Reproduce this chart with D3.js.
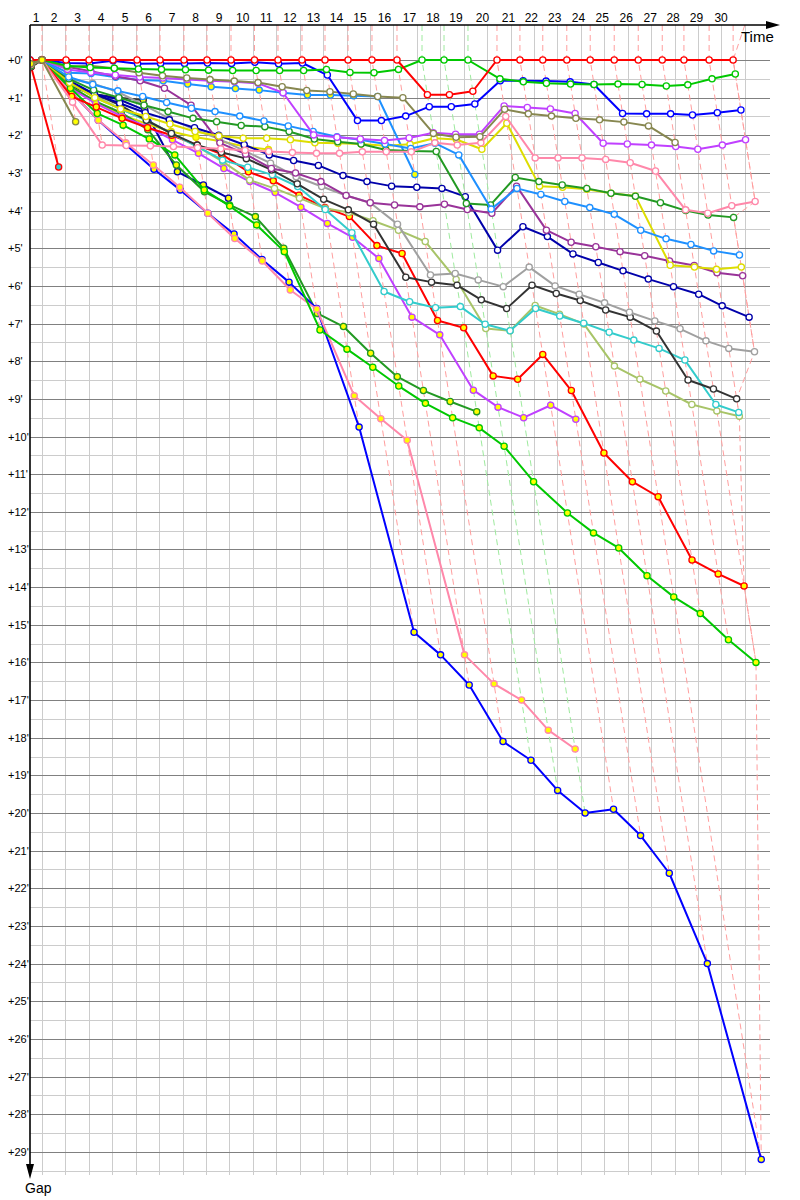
<!DOCTYPE html>
<html><head><meta charset="utf-8">
<script src="https://cdn.jsdelivr.net/npm/d3@7"></script>
<style>body{margin:0;background:#fff}svg{display:block}</style>
</head><body>
<svg id="chart" width="800" height="1200"></svg>
<script>
// ---------- DATA ----------
// leader's elapsed time (minutes) at each lap crossing, lap 0 .. lap 30
const leaderTime = [-2.05, 0, 4.10, 8.02, 12.12, 16.22, 20.15, 24.24, 28.17, 32.27, 36.28,
  40.29, 44.39, 48.32, 52.25, 56.34, 60.61, 64.88, 68.64, 72.73, 77.68,
  81.60, 85.50, 89.60, 93.60, 97.70, 101.80, 105.90, 109.60, 113.90, 118.00];
const lapLabels = d3.range(1, 31);
const gapTicks = d3.range(0, 30);
const raceEnd = 120;

// gap to leader (minutes) per lap, starting at lap 0
const redGaps = [0, 0, 0,0,0,0,0, 0,0,0,0,0, 0,0,0,0,0, 0.92,0.92,0.83, 0, 0,0,0,0,0, 0,0,0,0,0];
const greenGaps = [0.05, 0, 0.15,0.2,0.22,0.24,0.25, 0.26,0.27,0.28,0.28,0.28, 0.28,0.25,0.33,0.34,0.25, 0,0,0, 0.5, 0.58,0.62,0.64,0.65,0.64, 0.65,0.69,0.66,0.5,0.37];
const blueGaps = [0.03, 0, 0.08,0.09,0.02,0.1,0.09, 0.09,0.08,0.09,0.06,0.1, 0.08,0.4,1.61,1.61,1.49, 1.24,1.24,1.17, 0.55, 0.55,0.56,0.58,0.65,1.42, 1.43,1.43,1.46,1.4,1.33];
const oliveGaps = [0.1, 0, 0.18,0.15,0.22,0.34,0.42, 0.48,0.52,0.56,0.6,0.71, 0.81,0.84,0.9,0.97,1.0, 1.95,2.05,2.04, 1.31, 1.43,1.49,1.55,1.59,1.65, 1.75,2.19];
const violetGaps = [0.08, 0, 0.25,0.33,0.4,0.45,0.48, 0.52,0.55,0.58,0.62,0.87, 1.99,2.05,2.1,2.14,2.07, 1.93,1.97,1.97, 1.22, 1.26,1.3,1.42,2.21,2.23, 2.26,2.3,2.37,2.26,2.12];
const pinkGaps = [0.12, 0, 1.12,2.26,2.27,2.28,2.3, 2.33,2.36,2.4,2.43,2.46, 2.48,2.48,2.44,2.44,2.44, 2.2,2.26,2.2, 1.5, 2.6,2.6,2.6,2.64,2.73, 2.95,3.98,4.07,3.87,3.76];
const skyYGaps = [0.06, 0, 0.34,0.36,0.46,0.53,0.55, 0.64,0.71,0.76,0.8,0.87, 0.93,0.93,0.95,0.97,3.04];
const skyGaps = [0.1, 0, 0.45,0.65,0.82,0.97,1.13, 1.28,1.37,1.49,1.62,1.75, 1.9,2.04,2.12,2.23,2.35, 2.21,2.52,3.96, 3.41, 3.57,3.76,3.92,4.1,4.52, 4.75,4.9,5.07,5.18];
const dkGreenGaps = [0.15, 0, 0.5,0.8,1.0,1.2,1.37, 1.55,1.64,1.74,1.77,1.9, 2.1,2.17,2.23,2.39,2.42, 2.43,3.81,3.85, 3.12, 3.23,3.32,3.41,3.54,3.62, 3.79,4.0,4.12,4.18];
const yellowGaps = [0.05, 0, 0.6,1.0,1.3,1.5,1.7, 1.9,2.02,2.08,2.08,2.12, 2.2,2.21,2.23,2.28,2.24, 2.08,2.11,2.37, 1.68, 3.35,3.38,3.43,3.54,3.61, 5.45,5.5,5.56,5.5];
const purpleGaps = [0.1, 0, 0.18,0.3,0.43,0.55,0.75, 1.2,2.2,2.5,2.88,3.0, 3.23,3.6,3.79,3.85,3.9, 3.83,3.97,4.07, 3.35, 4.52,4.84,4.96,5.09,5.2, 5.34,5.46,5.65,5.73];
const navyGaps = [0.12, 0, 0.55,0.9,1.15,1.4,1.59, 1.8,2.0,2.25,2.52,2.67, 2.8,3.07,3.23,3.35,3.38, 3.41,3.63,5.05, 4.43, 4.69,5.15,5.38,5.6,5.82, 6.02,6.22,6.53,6.83];
const grayGaps = [0.15, 0, 0.5,0.62,0.85,1.2,1.55, 1.85,2.1,2.42,2.74,3.1, 3.36,3.6,3.79,4.36,5.71, 5.67,5.84,6.02, 5.5, 6.0,6.22,6.45,6.7,6.93, 7.14,7.46,7.66,7.75];
const blackGaps = [0.18, 0, 0.6,0.9,1.2,1.6,1.95, 2.26,2.45,2.62,2.92,3.29, 3.7,3.98,4.36,5.77,5.9, 5.98,6.37,6.6, 5.98, 6.2,6.39,6.64,6.83,7.2, 8.5,8.74,9.0];
const turquoiseGaps = [0.04, 0, 0.6,1.0,1.3,1.6,1.95, 2.3,2.66,2.85,3.05,3.36, 3.97,4.59,6.15,6.42,6.58, 6.55,7.02,7.19, 6.6, 6.8,6.99,7.23,7.44,7.66, 7.97,9.15,9.36];
const lightOliveGaps = [0.14, 0, 0.55,0.95,1.3,1.6,1.95, 2.3,2.7,3.19,3.41,3.67, 3.94,4.05,4.27,4.52,4.82, 5.83,7.13,7.19, 6.52, 6.75,7.01,8.13,8.48,8.79, 9.15,9.32,9.46];
const redYGaps = [0.18, 0, 0.97,1.25,1.55,1.8,2.0, 2.26,2.5,2.97,3.21,3.59, 3.92,4.16,4.93,5.14,6.92, 7.11,8.39,8.48, 7.82, 8.78,10.44,11.2,11.6,13.28, 13.65,13.97];
const greenYGaps = [0.02, 0, 0.75,1.42,1.73,2.1,2.52, 3.45,3.88,4.38,5.09,7.17, 7.68,8.16,8.66,9.12,9.5, 9.77,10.26,11.2, 12.03, 12.56,12.96,13.7,14.26,14.7, 15.4,16.0];
const dkGreenYGaps = [0.1, 0, 0.7,1.1,1.4,1.85,2.79, 3.5,3.85,4.16,5.0,6.73, 7.08,7.79,8.41,8.78,9.07, 9.34];
const violetYGaps = [0.07, 0, 0.75,1.15,1.5,1.77,2.12, 2.48,2.88,3.23,3.52,3.91, 4.34,4.71,5.27,6.83,7.3, 8.77,9.22,9.5, 9.17, 9.54];
const pinkYGaps = [0.16, 0, 0.85,1.6,2.2,2.79,3.38, 4.07,4.74,5.34,6.11,6.62, 8.92,9.53,10.1,15.8,16.57, 17.0,17.8,18.3];
const blueYGaps = [0, 0, 0.85,1.6,2.26,2.9,3.45, 4.07,4.62,5.3,5.9,6.6, 9.75,15.2,15.8,16.6,18.1, 18.6,19.4,20.0, 19.9, 20.6,21.6,24.0,29.2];
const redOutGaps = [0.18, 2.84];
const oliveYGaps = [0.1, 0, 1.64];
const yellowYGaps = [0.08, 0, 0.7,1.1,1.45,1.7,1.9, 2.05,2.15,2.3,2.38];
const navyYGaps = [0.05, 0, 0.65,0.9,1.05,1.33,2.97, 3.32,3.67];
const blackYGaps = [0.13, 0, 0.71,0.91,1.0,1.06];

// ---------- STYLE (separate from data) ----------
const C = {red:'#ff0000', green:'#00c800', blue:'#0000ff', olive:'#878750', violet:'#c040ff',
  pink:'#ff88aa', sky:'#1e90ff', dkgreen:'#229922', yellow:'#dddd00', purple:'#993399',
  navy:'#0000aa', gray:'#a0a0a0', black:'#333333', turq:'#33cccc', lolive:'#a8c468'};
const WHITE='#ffffff', YEL='#ffff00';
// drawing order: bottom -> top
const seriesList = [
  {gaps:redOutGaps, color:C.red, fill:C.turq},
  {gaps:blackYGaps, color:C.black, fill:YEL},
  {gaps:navyYGaps, color:C.navy, fill:YEL},
  {gaps:yellowYGaps, color:C.yellow, fill:YEL},
  {gaps:skyYGaps, color:C.sky, fill:YEL},
  {gaps:dkGreenYGaps, color:C.dkgreen, fill:YEL},
  {gaps:violetYGaps, color:C.violet, fill:YEL},
  {gaps:blueYGaps, color:C.blue, fill:YEL},
  {gaps:pinkYGaps, color:C.pink, fill:YEL},
  {gaps:greenYGaps, color:C.green, fill:YEL},
  {gaps:redYGaps, color:C.red, fill:YEL},
  {gaps:lightOliveGaps, color:C.lolive, fill:WHITE},
  {gaps:turquoiseGaps, color:C.turq, fill:WHITE},
  {gaps:blackGaps, color:C.black, fill:WHITE},
  {gaps:grayGaps, color:C.gray, fill:WHITE},
  {gaps:navyGaps, color:C.navy, fill:WHITE},
  {gaps:purpleGaps, color:C.purple, fill:WHITE},
  {gaps:yellowGaps, color:C.yellow, fill:WHITE},
  {gaps:dkGreenGaps, color:C.dkgreen, fill:WHITE},
  {gaps:skyGaps, color:C.sky, fill:WHITE},
  {gaps:pinkGaps, color:C.pink, fill:WHITE},
  {gaps:violetGaps, color:C.violet, fill:WHITE},
  {gaps:oliveGaps, color:C.olive, fill:WHITE},
  {gaps:blueGaps, color:C.blue, fill:WHITE},
  {gaps:greenGaps, color:C.green, fill:WHITE},
  {gaps:redGaps, color:C.red, fill:WHITE},
  {gaps:oliveYGaps, color:C.olive, fill:YEL}
];

// ---------- SCALES ----------
const X = d3.scaleLinear().domain([0, 120]).range([42, 744.84]);
const Y = d3.scaleLinear().domain([0, 29]).range([60, 1151.85]);
const LEFT = 30, TOP = 25, RIGHT = 770, BOTTOM = 1175;
const FONT = "'Liberation Sans', Arial, sans-serif";

seriesList.forEach(s => {
  s.pts = s.gaps.map((g, lap) => ({lap, gap:g, x:X(leaderTime[lap] + g), y:Y(g)}));
});

const svg = d3.select('#chart');
svg.append('defs').append('clipPath').attr('id','plot')
  .append('rect').attr('x', LEFT + 1).attr('y', TOP).attr('width', 790 - LEFT).attr('height', BOTTOM - TOP + 5);

// ---------- GRID ----------
const grid = svg.append('g').attr('shape-rendering','crispEdges');
const halfTicks = d3.range(0, 59).map(i => i / 2 + 0.5).filter(v => v % 1 !== 0);
grid.selectAll('line.minor').data(halfTicks).join('line')
  .attr('x1', LEFT).attr('x2', RIGHT).attr('y1', d => Math.round(Y(d)) + 0.5).attr('y2', d => Math.round(Y(d)) + 0.5)
  .attr('stroke', '#cccccc');
grid.selectAll('line.v').data(d3.range(0, raceEnd + 1, 4)).join('line')
  .attr('x1', d => Math.round(X(d)) + 0.5).attr('x2', d => Math.round(X(d)) + 0.5)
  .attr('y1', TOP).attr('y2', BOTTOM).attr('stroke', '#cccccc');
grid.selectAll('line.major').data(gapTicks).join('line')
  .attr('x1', LEFT).attr('x2', RIGHT).attr('y1', d => Math.round(Y(d)) + 0.5).attr('y2', d => Math.round(Y(d)) + 0.5)
  .attr('stroke', '#808080');

// ---------- LAP LINES (dashed) ----------
const lapG = svg.append('g').attr('clip-path','url(#plot)');
const leaderPriority = seriesList.slice(0, -1).reverse();
const light = c => d3.interpolateRgb(c, '#ffffff')(0.62);
const line = d3.line().x(d => d.x).y(d => d.y);
for (let lap = 1; lap < leaderTime.length; lap++) {
  const pts = [];
  let leader = null, minG = Infinity;
  leaderPriority.concat(seriesList.slice(-1)).forEach(s => {
    const p = s.pts[lap];
    if (!p) return;
    pts.push(p);
    if (p.gap < minG) { minG = p.gap; leader = s; }
  });
  pts.sort((a, b) => a.gap - b.gap);
  const path = [{x: X(leaderTime[lap]), y: TOP}].concat(pts);
  lapG.append('path').attr('d', line(path)).attr('fill','none')
    .attr('stroke', light(leader.color)).attr('stroke-width', 1).attr('stroke-dasharray','6,4');
}
// finish line
const finals = seriesList.map(s => s.pts[s.pts.length - 1])
  .filter(p => leaderTime[p.lap] + p.gap >= raceEnd - 3).sort((a, b) => a.gap - b.gap);
lapG.append('path').attr('d', line([{x: X(raceEnd), y: TOP}].concat(finals))).attr('fill','none')
  .attr('stroke', light(C.red)).attr('stroke-width', 1).attr('stroke-dasharray','6,4');

// ---------- SERIES ----------
const serG = svg.append('g').attr('clip-path','url(#plot)');
seriesList.forEach(s => {
  const g = serG.append('g');
  g.append('path').attr('d', line(s.pts)).attr('fill','none')
    .attr('stroke', s.color).attr('stroke-width', 2).attr('stroke-linejoin','round');
  g.selectAll('circle').data(s.pts).join('circle')
    .attr('cx', d => d.x).attr('cy', d => d.y).attr('r', 3.1)
    .attr('fill', s.fill).attr('stroke', s.color).attr('stroke-width', 1.3);
});

// ---------- AXES ----------
const ax = svg.append('g');
ax.append('line').attr('x1', LEFT).attr('x2', LEFT).attr('y1', TOP).attr('y2', 1168)
  .attr('stroke','#000').attr('stroke-width', 1.6);
ax.append('line').attr('x1', LEFT).attr('x2', 770).attr('y1', TOP).attr('y2', TOP)
  .attr('stroke','#000').attr('stroke-width', 1.6);
ax.append('path').attr('d', `M${LEFT-4},1164 L${LEFT+4},1164 L${LEFT},1179 Z`).attr('fill','#000');
ax.append('path').attr('d', `M766,${TOP-4} L766,${TOP+4} L780,${TOP} Z`).attr('fill','#000');
ax.append('text').attr('x', 741).attr('y', 42).text('Time')
  .attr('font-family', FONT).attr('font-size', 15).attr('fill','#000');
ax.append('text').attr('x', 25).attr('y', 1193).text('Gap')
  .attr('font-family', FONT).attr('font-size', 14).attr('fill','#000');

// lap labels
ax.selectAll('text.lap').data(lapLabels).join('text')
  .attr('x', k => (X(leaderTime[k - 1]) + X(leaderTime[k])) / 2).attr('y', 22)
  .attr('text-anchor','middle').attr('font-family', FONT).attr('font-size', 12).attr('fill','#000')
  .text(k => k);
// gap labels
ax.selectAll('text.gap').data(gapTicks).join('text')
  .attr('x', 8).attr('y', d => Y(d) + 4)
  .attr('font-family', FONT).attr('font-size', 11).attr('fill','#000')
  .text(d => '+' + d + "'");
</script>
</body></html>
